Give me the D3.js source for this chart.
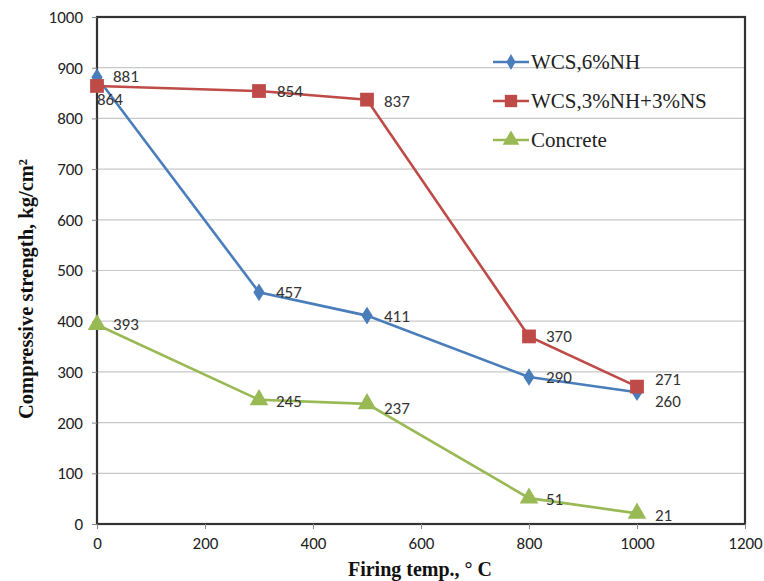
<!DOCTYPE html>
<html><head><meta charset="utf-8">
<script src="https://cdn.jsdelivr.net/npm/d3@7"></script>
<style>body{margin:0;background:#fff}</style>
</head><body>
<script>
const temps = [0, 300, 500, 800, 1000];
const wcsNH = [881, 457, 411, 290, 260];
const wcsNHNS = [864, 854, 837, 370, 271];
const concrete = [393, 245, 237, 51, 21];
const seriesNames = ["WCS,6%NH", "WCS,3%NH+3%NS", "Concrete"];
const xTicks = [0, 200, 400, 600, 800, 1000, 1200];
const yTicks = [0, 100, 200, 300, 400, 500, 600, 700, 800, 900, 1000];

const W = 764, H = 581;
const svg = d3.select("body").append("svg").attr("width", W).attr("height", H);
const x = d3.scaleLinear().domain([0, 1200]).range([97, 745]);
const y = d3.scaleLinear().domain([0, 1000]).range([524, 17]);
const tickFont = "Carlito, 'Liberation Sans Narrow', 'Liberation Sans', sans-serif";
const serif = "'Liberation Serif', 'DejaVu Serif', serif";

// gridlines
svg.append("g").selectAll("line").data(yTicks.filter(d => d > 0 && d < 1000)).join("line")
  .attr("x1", x(0)).attr("x2", x(1200)).attr("y1", d => y(d)).attr("y2", d => y(d))
  .attr("stroke", "#c8c8c8").attr("stroke-width", 1.2);

// frame
svg.append("rect").attr("x", x(0)).attr("y", y(1000)).attr("width", x(1200) - x(0)).attr("height", y(0) - y(1000))
  .attr("fill", "none").attr("stroke", "#333").attr("stroke-width", 2.2);

// axes
const ax = svg.append("g").attr("transform", `translate(0,${y(0)})`)
  .call(d3.axisBottom(x).tickValues(xTicks).tickSize(5).tickPadding(8).tickFormat(d3.format("d")));
const ay = svg.append("g").attr("transform", `translate(${x(0)},0)`)
  .call(d3.axisLeft(y).tickValues(yTicks).tickSize(5).tickPadding(9).tickFormat(d3.format("d")));
[ax, ay].forEach(a => {
  a.select(".domain").remove();
  a.selectAll(".tick line").attr("stroke", "#888");
  a.selectAll("text").attr("font-family", tickFont).attr("font-size", 17).attr("fill", "#222");
});

// axis titles
svg.append("text").attr("x", 420).attr("y", 576).attr("text-anchor", "middle")
  .attr("font-family", serif).attr("font-weight", "bold").attr("font-size", 20).attr("fill", "#111")
  .text("Firing temp., ° C");
svg.append("text").attr("transform", "translate(33,289) rotate(-90)").attr("text-anchor", "middle")
  .attr("font-family", serif).attr("font-weight", "bold").attr("font-size", 20.5).attr("fill", "#111")
  .text("Compressive strength, kg/cm²");

const colors = ["#4a7ebb", "#be4b48", "#98b954"];
const symbols = [d3.symbolDiamond, d3.symbolSquare, d3.symbolTriangle];
const symSizes = [90, 190, 150];
const allSeries = [wcsNH, wcsNHNS, concrete];
const line = d3.line().x((d, i) => x(temps[i])).y(d => y(d));

// label offsets per series and point (dx, dy)
const labelOff = [
  [[16, -1], [17, 0], [17, 0], [17, 0], [18, 9]],
  [[0, 13], [18, 0], [17, 1], [17, 0], [18, -8]],
  [[16, -1], [17, 1], [17, 4], [17, 1], [18, 2]]
];

allSeries.forEach((s, k) => {
  const g = svg.append("g");
  g.append("path").datum(s).attr("d", line).attr("fill", "none")
    .attr("stroke", colors[k]).attr("stroke-width", 2.6);
  g.selectAll("path.m").data(s).join("path").attr("class", "m")
    .attr("d", d3.symbol().type(symbols[k]).size(symSizes[k]))
    .attr("transform", (d, i) => `translate(${x(temps[i])},${y(d)})${k === 0 ? " scale(1.1,1)" : ""}`)
    .attr("fill", colors[k]);
});
allSeries.forEach((s, k) => {
  svg.append("g").selectAll("text").data(s).join("text")
    .attr("x", (d, i) => x(temps[i]) + labelOff[k][i][0])
    .attr("y", (d, i) => y(d) + labelOff[k][i][1])
    .attr("dy", "0.35em")
    .attr("font-family", tickFont).attr("font-size", 17).attr("fill", "#333")
    .text(d => d);
});

// legend
const leg = svg.append("g");
seriesNames.forEach((n, k) => {
  const ly = 62 + k * 39;
  leg.append("line").attr("x1", 493).attr("x2", 529).attr("y1", ly).attr("y2", ly)
    .attr("stroke", colors[k]).attr("stroke-width", 2.6);
  leg.append("path").attr("d", d3.symbol().type(symbols[k]).size(symSizes[k] * 0.8))
    .attr("transform", `translate(511,${ly})`).attr("fill", colors[k]);
  leg.append("text").attr("x", 531).attr("y", ly).attr("dy", "0.35em")
    .attr("font-family", serif).attr("font-size", 21).attr("fill", "#222").text(n);
});
</script>
</body></html>
